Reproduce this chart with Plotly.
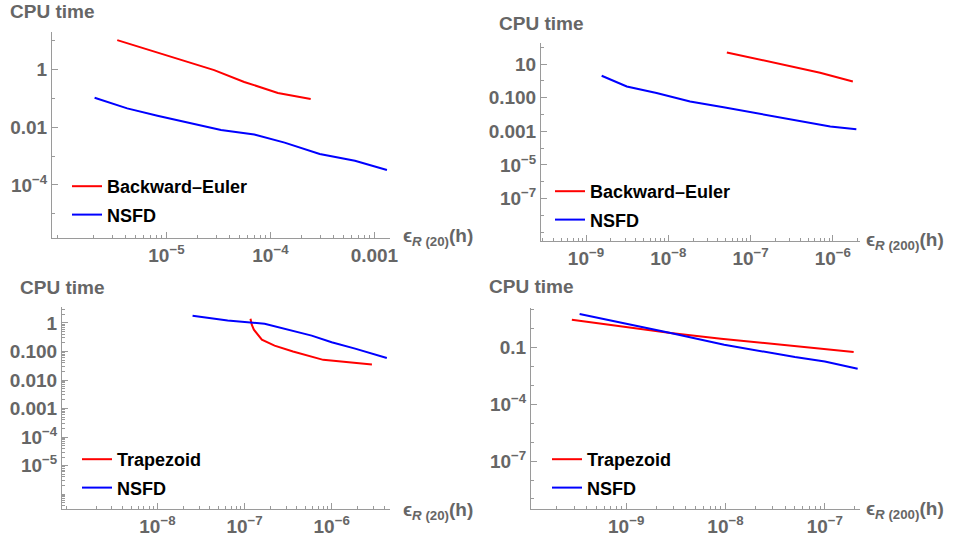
import plotly.graph_objects as go

# ---------------- data ----------------
# Panel 1 (top-left): epsilon_R(20)
p1_be_x = [3.37e-6, 6.55e-6, 1.37e-5, 2.88e-5, 5.6e-5, 1.18e-4, 2.44e-4]
p1_be_y = [10.0, 4.8, 2.0, 0.92, 0.36, 0.15, 0.093]
p1_ns_x = [2.04e-6, 4.2e-6, 8.2e-6, 1.6e-5, 3.35e-5, 7.0e-5, 1.37e-4, 2.98e-4, 6.5e-4, 1.32e-3]
p1_ns_y = [0.103, 0.044, 0.0246, 0.0145, 0.0079, 0.0055, 0.0029, 0.00117, 0.00069, 0.00033]

# Panel 2 (top-right): epsilon_R(200)
p2_be_x = [5.15e-8, 1.2e-7, 2.9e-7, 7.0e-7, 1.75e-6]
p2_be_y = [49.0, 20.0, 8.0, 3.0, 0.91]
p2_ns_x = [1.55e-9, 3.13e-9, 7.2e-9, 1.84e-8, 4.7e-8, 1.19e-7, 3.03e-7, 9.3e-7, 1.93e-6]
p2_ns_y = [2.0, 0.46, 0.19, 0.059, 0.027, 0.0118, 0.0048, 0.0019, 0.0013]

# Panel 3 (bottom-left): epsilon_R(20)
p3_tr_x = [1.17e-7, 1.21e-7, 1.28e-7, 1.58e-7, 2.21e-7, 3.6e-7, 8.0e-7, 2.9e-6]
p3_tr_y = [1.41, 0.87, 0.58, 0.26, 0.16, 0.10, 0.051, 0.035]
p3_ns_x = [2.53e-8, 6.4e-8, 1.7e-7, 3.45e-7, 5.9e-7, 1.0e-6, 1.86e-6, 4.3e-6]
p3_ns_y = [1.8, 1.23, 0.94, 0.55, 0.36, 0.21, 0.126, 0.059]

# Panel 4 (bottom-right): epsilon_R(200)
p4_tr_x = [2.84e-10, 8.75e-10, 2.8e-9, 9.0e-9, 2.88e-8, 9.3e-8, 1.95e-7]
p4_tr_y = [2.9, 1.29, 0.57, 0.29, 0.157, 0.085, 0.057]
p4_ns_x = [3.4e-10, 1.02e-9, 2.8e-9, 9.7e-9, 2.88e-8, 5.0e-8, 1.0e-7, 2.14e-7]
p4_ns_y = [5.85, 1.8, 0.57, 0.139, 0.05, 0.031, 0.018, 0.0074]

# tick labels
p1_xt = [1e-5, 1e-4, 1e-3]
p1_xl = ["10<sup>−5</sup>", "10<sup>−4</sup>", "0.001"]
p1_yt = [1, 1e-2, 1e-4]
p1_yl = ["1", "0.01", "10<sup>−4</sup>"]
p2_xt = [1e-9, 1e-8, 1e-7, 1e-6]
p2_xl = ["10<sup>−9</sup>", "10<sup>−8</sup>", "10<sup>−7</sup>", "10<sup>−6</sup>"]
p2_yt = [10, 0.1, 1e-3, 1e-5, 1e-7]
p2_yl = ["10", "0.100", "0.001", "10<sup>−5</sup>", "10<sup>−7</sup>"]
p3_xt = [1e-8, 1e-7, 1e-6]
p3_xl = ["10<sup>−8</sup>", "10<sup>−7</sup>", "10<sup>−6</sup>"]
p3_yt = [1, 0.1, 0.01, 1e-3, 1e-4, 1e-5]
p3_yl = ["1", "0.100", "0.010", "0.001", "10<sup>−4</sup>", "10<sup>−5</sup>"]
p4_xt = [1e-9, 1e-8, 1e-7]
p4_xl = ["10<sup>−9</sup>", "10<sup>−8</sup>", "10<sup>−7</sup>"]
p4_yt = [0.1, 1e-4, 1e-7]
p4_yl = ["0.1", "10<sup>−4</sup>", "10<sup>−7</sup>"]

RED = "#ff0000"
BLUE = "#0000ff"
GRAY_T = "#666666"
GRAY_A = "#9a9a9a"
W, H = 958, 540
FONT = "Liberation Sans, Arial"


def px(x):
    return x / W


def py(y):
    return 1 - y / H


def minor_sub(lo, hi):
    vals = []
    for e in range(lo, hi + 1):
        for m in range(2, 10):
            vals.append(m * 10.0 ** e)
    return vals


def decades(lo, hi, skip):
    return [10.0 ** e for e in range(lo, hi + 1)
            if not any(abs(10.0 ** e - s) / s < 1e-6 for s in skip)]


fig = go.Figure()

panels = [
    dict(n=1, dx=(52, 390), dy=(32, 238), xr=(-6.10, -2.85), yr=(-5.83, 1.28),
         xt=p1_xt, xl=p1_xl, yt=p1_yt, yl=p1_yl,
         xmin=minor_sub(-7, -3), ymin=decades(-7, 2, p1_yt),
         s=[(p1_be_x, p1_be_y, RED, "Backward–Euler"), (p1_ns_x, p1_ns_y, BLUE, "NSFD")],
         leg=(67, 168), cpu=(8, 11), lab=(401, 237), sub="R (20)"),
    dict(n=2, dx=(541, 860), dy=(43, 241), xr=(-9.547, -5.67), yr=(-9.53, 2.25),
         xt=p2_xt, xl=p2_xl, yt=p2_yt, yl=p2_yl,
         xmin=minor_sub(-10, -6), ymin=decades(-10, 3, p2_yt),
         s=[(p2_be_x, p2_be_y, RED, "Backward–Euler"), (p2_ns_x, p2_ns_y, BLUE, "NSFD")],
         leg=(550, 173), cpu=(497, 24), lab=(864, 241), sub="R (200)"),
    dict(n=3, dx=(62, 390), dy=(307, 509), xr=(-9.096, -5.33), yr=(-6.52, 0.56),
         xt=p3_xt, xl=p3_xl, yt=p3_yt, yl=p3_yl,
         xmin=minor_sub(-10, -6), ymin=minor_sub(-7, 0) + decades(-7, 0, p3_yt),
         s=[(p3_tr_x, p3_tr_y, RED, "Trapezoid"), (p3_ns_x, p3_ns_y, BLUE, "NSFD")],
         leg=(77, 441), cpu=(18, 287), lab=(401, 511), sub="R (20)"),
    dict(n=4, dx=(531, 860), dy=(308, 509), xr=(-9.958, -6.646), yr=(-9.53, 1.08),
         xt=p4_xt, xl=p4_xl, yt=p4_yt, yl=p4_yl,
         xmin=minor_sub(-10, -7), ymin=decades(-10, 2, p4_yt),
         s=[(p4_tr_x, p4_tr_y, RED, "Trapezoid"), (p4_ns_x, p4_ns_y, BLUE, "NSFD")],
         leg=(547, 441), cpu=(487, 286), lab=(864, 510), sub="R (200)"),
]

annotations = []
for p in panels:
    n = p["n"]
    xa = "x" if n == 1 else f"x{n}"
    ya = "y" if n == 1 else f"y{n}"
    lg = "legend" if n == 1 else f"legend{n}"
    for i, (xs, ys, col, name) in enumerate(p["s"]):
        fig.add_trace(go.Scatter(x=xs, y=ys, mode="lines", name=name,
                                 line=dict(color=col, width=2),
                                 legendgroup=f"g{n}_{i}",
                                 xaxis=xa, yaxis=ya, legend=lg))
    axcommon = dict(type="log", showline=True, linecolor=GRAY_A, linewidth=1,
                    ticks="inside", ticklen=6, tickcolor=GRAY_A, showgrid=False,
                    zeroline=False, tickmode="array", automargin=False,
                    tickfont=dict(family=FONT, size=19, color=GRAY_T, weight="bold"))
    fig.update_layout(**{
        ("xaxis" if n == 1 else f"xaxis{n}"): dict(
            axcommon, domain=[px(p["dx"][0]), px(p["dx"][1])], range=list(p["xr"]),
            tickvals=p["xt"], ticktext=p["xl"], anchor=ya, ticklabelstandoff=0,
            minor=dict(tickvals=p["xmin"], ticks="inside", ticklen=3, tickcolor=GRAY_A)),
        ("yaxis" if n == 1 else f"yaxis{n}"): dict(
            axcommon, domain=[py(p["dy"][1]), py(p["dy"][0])], range=list(p["yr"]),
            tickvals=p["yt"], ticktext=p["yl"], anchor=xa, ticklabelstandoff=0,
            minor=dict(tickvals=p["ymin"], ticks="inside", ticklen=3, tickcolor=GRAY_A)),
        lg: dict(x=px(p["leg"][0]), y=py(p["leg"][1]), xanchor="left", yanchor="top",
                 bgcolor="rgba(0,0,0,0)", borderwidth=0, itemwidth=30,
                 tracegroupgap=2,
                 font=dict(family=FONT, size=18, color="black", weight="bold")),
    })
    annotations.append(dict(xref="paper", yref="paper", x=px(p["cpu"][0]),
                            y=py(p["cpu"][1]), xanchor="left", yanchor="middle",
                            text="CPU time", showarrow=False,
                            font=dict(family=FONT, size=19, color=GRAY_T, weight="bold")))
    annotations.append(dict(xref="paper", yref="paper", x=px(p["lab"][0]),
                            y=py(p["lab"][1]), xanchor="left", yanchor="middle",
                            text=f"ϵ<sub><i>{p['sub'][0]}</i>{p['sub'][1:]}</sub>(h)",
                            showarrow=False,
                            font=dict(family=FONT, size=19, color=GRAY_T, weight="bold")))

fig.update_layout(width=W, height=H, margin=dict(l=0, r=0, t=0, b=0),
                  paper_bgcolor="white", plot_bgcolor="white",
                  showlegend=True, annotations=annotations)

# remove the default page margin so the figure sits at the window's corner
fig.write_html("out.html", config={"displayModeBar": False},
               post_script="document.body.style.margin='0';")
